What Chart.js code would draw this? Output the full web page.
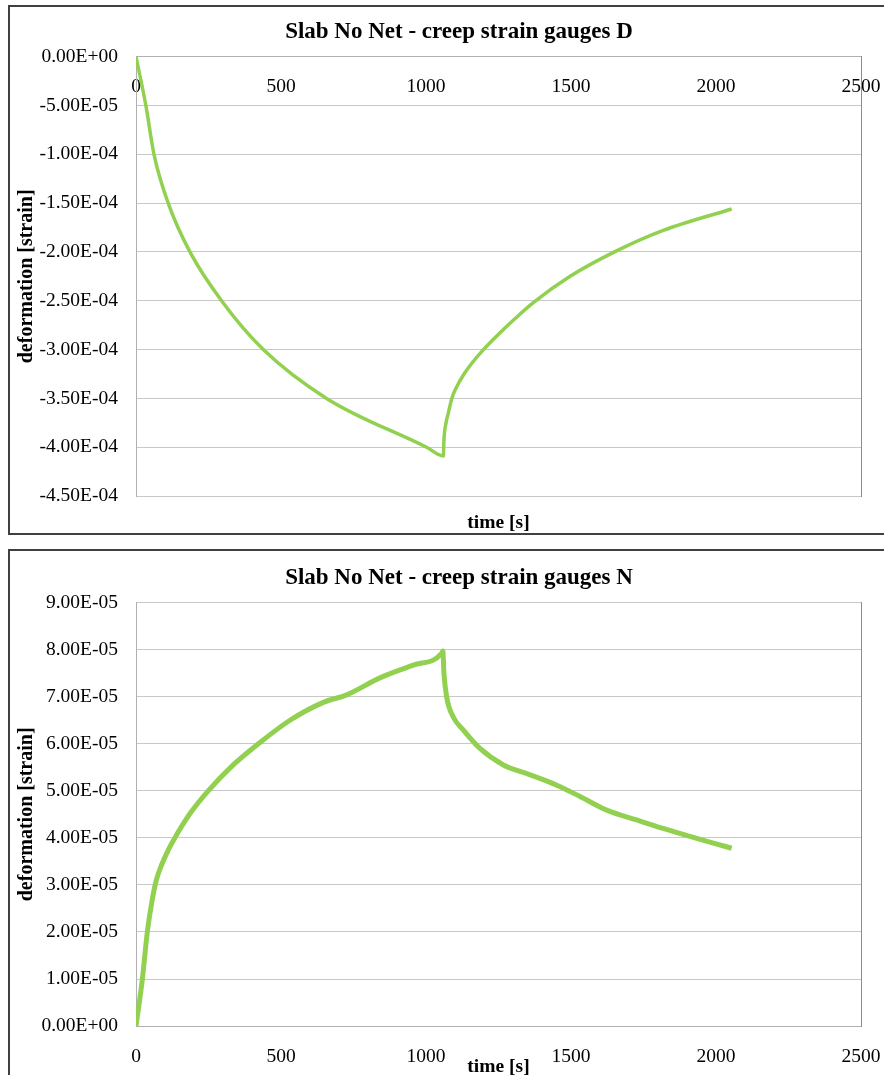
<!DOCTYPE html>
<html>
<head>
<meta charset="utf-8">
<title>Slab No Net - creep strain gauges</title>
<script src="https://cdn.jsdelivr.net/npm/chart.js@4.4.1/dist/chart.umd.min.js"></script>
<style>
  html, body { margin: 0; padding: 0; background: #fff; width: 884px; height: 1075px; overflow: hidden; }
  .frame { position: absolute; left: 8px; width: 910px; height: 530px; border: 2px solid #404040; box-sizing: border-box; }
  .plot { position: absolute; left: 10px; width: 898px; height: 526px; }
</style>
</head>
<body>
<div class="frame" style="top:5px"></div>
<div class="plot" style="top:7px"><canvas id="chartD" width="898" height="526"></canvas></div>
<div class="frame" style="top:549px"></div>
<div class="plot" style="top:551px"><canvas id="chartN" width="898" height="526"></canvas></div>
<script>
// gauge D (compression)
const D_TIME = [0, 34, 62, 111, 186, 295, 439, 657, 1002, 1060,
                1061, 1062, 1069, 1077, 1089, 1106, 1129, 1158, 1198, 1244, 1301, 1370,
                1497, 1650, 1818, 2054];
const D_STRAIN = [0, -5.0e-5, -1.0e-4, -1.5e-4, -2.0e-4, -2.5e-4, -3.0e-4, -3.5e-4, -4.0e-4, -4.09e-4,
                  -4.0e-4, -3.92e-4, -3.75e-4, -3.65e-4, -3.5e-4, -3.38e-4, -3.26e-4, -3.14e-4,
                  -3.0e-4, -2.86e-4, -2.7e-4, -2.52e-4, -2.25e-4, -2.0e-4, -1.78e-4, -1.56e-4];

// gauge N (tension)
const N_TIME = [0, 22, 39, 55, 70, 90, 112, 134, 160, 190, 249, 330, 422, 531, 646, 727, 841, 956,
                1054, 1058, 1062, 1071, 1094, 1129, 1186, 1267, 1359, 1451, 1531, 1623, 1727,
                1818, 1910, 1991, 2054];
const N_STRAIN = [0, 1.0e-5, 2.0e-5, 2.65e-5, 3.1e-5, 3.45e-5, 3.75e-5, 4.0e-5, 4.27e-5, 4.55e-5,
                  5.0e-5, 5.52e-5, 6.0e-5, 6.5e-5, 6.88e-5, 7.04e-5, 7.4e-5, 7.67e-5,
                  7.92e-5, 7.97e-5, 7.49e-5, 7.0e-5, 6.57e-5, 6.29e-5, 5.9e-5, 5.55e-5, 5.34e-5,
                  5.12e-5, 4.88e-5, 4.59e-5, 4.38e-5, 4.2e-5, 4.03e-5, 3.89e-5, 3.78e-5];

const X_MIN = 0, X_MAX = 2500, X_STEP = 500;
const D_Y = { min: -4.5e-4, max: 0, step: 5e-5 };
const N_Y = { min: 0, max: 9e-5, step: 1e-5 };

const SERIF = "'Liberation Serif', 'Times New Roman', serif";
const GREEN = '#92d050';

// Excel style: 0.00E+00
function sci(v) {
    if (Math.abs(v) < 1e-12) v = 0;
    const parts = v.toExponential(2).split('e');
    const e = parseInt(parts[1], 10);
    return parts[0].toUpperCase() + 'E' + (e < 0 ? '-' : '+') + String(Math.abs(e)).padStart(2, '0');
}

function makeChart(id, title, times, strains, yr, lineWidth, titlePad, subPad) {
    const ctx = document.getElementById(id).getContext('2d');
    return new Chart(ctx, {
        type: 'line',
        data: {
            datasets: [{
                data: times.map((t, i) => ({ x: t, y: strains[i] })),
                borderColor: GREEN,
                borderWidth: lineWidth,
                pointRadius: 0,
                cubicInterpolationMode: 'monotone',
                fill: false
            }]
        },
        options: {
            responsive: false,
            animation: false,
            layout: { padding: 0 },
            plugins: {
                legend: { display: false },
                tooltip: { enabled: false },
                title: {
                    display: true,
                    text: title,
                    color: '#000',
                    font: { family: SERIF, size: 23, weight: 'bold' },
                    padding: titlePad
                },
                subtitle: {
                    display: true,
                    position: 'bottom',
                    fullSize: false,
                    text: 'time [s]',
                    color: '#000',
                    font: { family: SERIF, size: 19.5, weight: 'bold' },
                    padding: subPad
                }
            },
            scales: {
                x: {
                    type: 'linear',
                    position: { y: 0 },
                    min: X_MIN,
                    max: X_MAX,
                    grid: { display: false, drawTicks: false },
                    border: { display: true, color: '#b0b0b0', width: 1 },
                    ticks: {
                        stepSize: X_STEP,
                        padding: 19,
                        color: '#000',
                        font: { family: SERIF, size: 19.5 },
                        maxRotation: 0,
                        callback: v => String(v)
                    }
                },
                y: {
                    position: 'left',
                    min: yr.min,
                    max: yr.max,
                    grid: { color: '#c8c8c8', lineWidth: 1, drawTicks: false },
                    border: { display: true, color: '#b0b0b0', width: 1 },
                    ticks: {
                        stepSize: yr.step,
                        padding: 18,
                        color: '#000',
                        font: { family: SERIF, size: 19.5 },
                        callback: v => sci(v)
                    },
                    title: {
                        display: true,
                        text: 'deformation [strain]',
                        color: '#000',
                        font: { family: SERIF, size: 20, weight: 'bold' },
                        padding: { top: 5, bottom: 0 }
                    },
                    afterFit: s => { s.width = 126; }
                },
                // empty axis that only draws the right edge of the plot area
                yRight: {
                    position: 'right',
                    min: 0,
                    max: 1,
                    grid: { display: false, drawTicks: false },
                    ticks: { display: false },
                    border: { display: true, color: '#8c8c8c', width: 1 },
                    afterFit: s => { s.width = 47; }
                }
            }
        }
    });
}

makeChart('chartD', 'Slab No Net - creep strain gauges D', D_TIME, D_STRAIN, D_Y, 3.5,
          { top: 11, bottom: 11 }, { top: 15, bottom: -1.5 });
makeChart('chartN', 'Slab No Net - creep strain gauges N', N_TIME, N_STRAIN, N_Y, 5,
          { top: 13, bottom: 11 }, { top: 29, bottom: -1.5 });
</script>
</body>
</html>
